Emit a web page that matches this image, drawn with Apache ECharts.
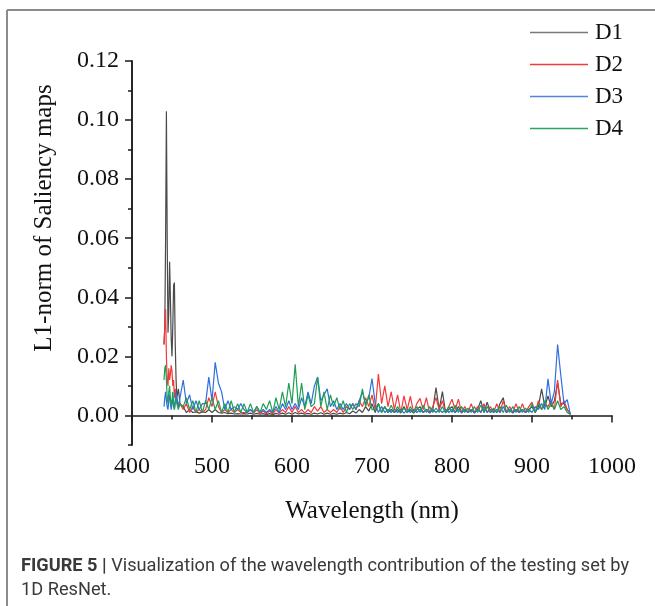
<!DOCTYPE html>
<html>
<head>
<meta charset="utf-8">
<script src="https://cdn.jsdelivr.net/npm/echarts@6/dist/echarts.min.js"></script>
<style>
  html, body { margin: 0; padding: 0; background: #fff; }
  #chart { width: 655px; height: 606px; }
</style>
</head>
<body>
<div id="chart"></div>
<script>
// wavelength grid (nm): dense at the start, then every 4 nm
const wavelengths = [
  440, 441, 442, 443, 444, 445, 446, 447, 448, 449, 450, 451, 452, 453, 454, 455, 456, 458, 460,
  464, 468, 472, 476, 480, 484, 488, 492, 496, 500, 504, 508, 512, 516, 520, 524, 528, 532, 536, 540,
  544, 548, 552, 556, 560, 564, 568, 572, 576, 580, 584, 588, 592, 596, 600, 604, 608, 612, 616, 620,
  624, 628, 632, 636, 640, 644, 648, 652, 656, 660, 664, 668, 672, 676, 680, 684, 688, 692, 696, 700,
  704, 708, 712, 716, 720, 724, 728, 732, 736, 740, 744, 748, 752, 756, 760, 764, 768, 772, 776, 780,
  784, 788, 792, 796, 800, 804, 808, 812, 816, 820, 824, 828, 832, 836, 840, 844, 848, 852, 856, 860,
  864, 868, 872, 876, 880, 884, 888, 892, 896, 900, 904, 908, 912, 916, 920, 924, 928, 932, 936, 940,
  944, 948
];

const d1 = [
  0.024, 0.030, 0.060, 0.103, 0.060, 0.028, 0.035, 0.052, 0.040, 0.026, 0.020, 0.030, 0.044, 0.045, 0.025, 0.013, 0.006, 0.009, 0.004,
  0.003, 0.001, 0.002, 0.001, 0.0012, 0.0008, 0.0012, 0.001, 0.002, 0.001, 0.002, 0.001, 0.0008, 0.001, 0.0006, 0.0008, 0.0005, 0.0006, 0.0005, 0.0006,
  0.0005, 0.0008, 0.0004, 0.0007, 0.0004, 0.0006, 0.0003, 0.0006, 0.0003, 0.0007, 0.0004, 0.0008, 0.0004, 0.0009, 0.0004, 0.001, 0.0005, 0.0008, 0.0004, 0.0007,
  0.0004, 0.0008, 0.0005, 0.0009, 0.0004, 0.0008, 0.0004, 0.0007, 0.0004, 0.0008, 0.0005, 0.001, 0.0006, 0.0015, 0.0008, 0.002, 0.001, 0.003, 0.0015, 0.004,
  0.001, 0.004, 0.001, 0.003, 0.001, 0.002, 0.001, 0.002, 0.0008, 0.003, 0.001, 0.002, 0.0008, 0.002, 0.003, 0.001, 0.002, 0.0008, 0.002, 0.0094,
  0.002, 0.0081, 0.001, 0.002, 0.003, 0.001, 0.003, 0.0008, 0.002, 0.001, 0.002, 0.0008, 0.002, 0.005, 0.001, 0.0045, 0.001, 0.002, 0.001, 0.004,
  0.006, 0.001, 0.002, 0.0008, 0.002, 0.001, 0.002, 0.001, 0.002, 0.003, 0.001, 0.003, 0.009, 0.003, 0.0066, 0.003, 0.005, 0.011, 0.004, 0.004,
  0.002, 0.0005
];

const d2 = [
  0.024, 0.030, 0.036, 0.020, 0.012, 0.010, 0.016, 0.012, 0.014, 0.017, 0.015, 0.010, 0.012, 0.006, 0.009, 0.004, 0.006, 0.003, 0.004,
  0.002, 0.004, 0.001, 0.003, 0.001, 0.002, 0.001, 0.002, 0.006, 0.003, 0.008, 0.003, 0.001, 0.002, 0.001, 0.002, 0.001, 0.002, 0.001, 0.001,
  0.001, 0.002, 0.0008, 0.002, 0.0006, 0.0015, 0.0006, 0.0015, 0.0005, 0.002, 0.0008, 0.002, 0.001, 0.003, 0.001, 0.003, 0.001, 0.002, 0.0008, 0.002,
  0.001, 0.003, 0.0015, 0.003, 0.001, 0.002, 0.001, 0.002, 0.001, 0.003, 0.001, 0.003, 0.002, 0.004, 0.002, 0.005, 0.003, 0.006, 0.003, 0.007,
  0.002, 0.014, 0.004, 0.010, 0.003, 0.008, 0.002, 0.007, 0.001, 0.0066, 0.002, 0.0065, 0.001, 0.004, 0.0058, 0.002, 0.006, 0.001, 0.003, 0.006,
  0.002, 0.005, 0.001, 0.003, 0.0055, 0.002, 0.0055, 0.001, 0.003, 0.001, 0.004, 0.001, 0.003, 0.001, 0.004, 0.001, 0.003, 0.001, 0.004, 0.001,
  0.005, 0.001, 0.003, 0.001, 0.004, 0.001, 0.004, 0.001, 0.003, 0.0045, 0.001, 0.005, 0.002, 0.004, 0.003, 0.005, 0.002, 0.012, 0.003, 0.005,
  0.002, 0.0005
];

const d3 = [
  0.003, 0.006, 0.008, 0.005, 0.003, 0.002, 0.005, 0.007, 0.004, 0.002, 0.004, 0.006, 0.003, 0.002, 0.005, 0.008, 0.006, 0.003, 0.006,
  0.012, 0.004, 0.007, 0.002, 0.005, 0.002, 0.004, 0.004, 0.013, 0.005, 0.018, 0.011, 0.008, 0.002, 0.005, 0.002, 0.003, 0.002, 0.004, 0.002,
  0.001, 0.002, 0.001, 0.003, 0.001, 0.002, 0.001, 0.002, 0.001, 0.003, 0.001, 0.004, 0.002, 0.005, 0.002, 0.004, 0.002, 0.006, 0.003, 0.008,
  0.004, 0.010, 0.013, 0.005, 0.007, 0.009, 0.003, 0.005, 0.002, 0.004, 0.002, 0.004, 0.002, 0.004, 0.002, 0.005, 0.008, 0.004, 0.006, 0.0125,
  0.004, 0.001, 0.003, 0.001, 0.002, 0.001, 0.002, 0.001, 0.002, 0.0008, 0.002, 0.001, 0.002, 0.001, 0.002, 0.001, 0.002, 0.001, 0.002, 0.001,
  0.002, 0.001, 0.002, 0.001, 0.002, 0.001, 0.002, 0.001, 0.002, 0.001, 0.002, 0.001, 0.002, 0.001, 0.003, 0.001, 0.002, 0.001, 0.002, 0.001,
  0.003, 0.001, 0.002, 0.001, 0.002, 0.001, 0.002, 0.001, 0.002, 0.001, 0.003, 0.002, 0.004, 0.002, 0.0124, 0.004, 0.0082, 0.024, 0.0136, 0.004,
  0.0054, 0.0003
];

const d4 = [
  0.012, 0.016, 0.017, 0.012, 0.006, 0.004, 0.008, 0.010, 0.006, 0.003, 0.005, 0.008, 0.005, 0.002, 0.004, 0.006, 0.004, 0.002, 0.004,
  0.003, 0.006, 0.002, 0.005, 0.001, 0.005, 0.001, 0.005, 0.002, 0.006, 0.002, 0.005, 0.001, 0.004, 0.001, 0.005, 0.001, 0.004, 0.001, 0.004,
  0.001, 0.004, 0.001, 0.003, 0.001, 0.004, 0.002, 0.005, 0.001, 0.006, 0.002, 0.008, 0.003, 0.011, 0.004, 0.0173, 0.003, 0.011, 0.002, 0.007,
  0.003, 0.004, 0.013, 0.003, 0.008, 0.002, 0.007, 0.003, 0.006, 0.002, 0.005, 0.001, 0.004, 0.002, 0.004, 0.003, 0.009, 0.003, 0.007, 0.002,
  0.002, 0.004, 0.001, 0.003, 0.001, 0.0035, 0.001, 0.003, 0.001, 0.0025, 0.001, 0.003, 0.0008, 0.003, 0.001, 0.0035, 0.001, 0.003, 0.001, 0.0025,
  0.001, 0.003, 0.0008, 0.003, 0.001, 0.0035, 0.001, 0.003, 0.001, 0.0025, 0.001, 0.003, 0.001, 0.0035, 0.001, 0.003, 0.001, 0.0025, 0.001, 0.003,
  0.001, 0.0035, 0.001, 0.003, 0.001, 0.003, 0.001, 0.0025, 0.001, 0.004, 0.001, 0.004, 0.002, 0.005, 0.002, 0.004, 0.002, 0.005, 0.002, 0.003,
  0.001, 0.0003
];

const seriesNames = ["D1", "D2", "D3", "D4"];
const seriesColors = ["#4a4a4a", "#f23a3a", "#2e6ee0", "#1f9e55"];
const legendColors = ["#7a7a7a", "#f23a3a", "#4f86e3", "#2aa564"];
const yLabelValues = [0, 0.02, 0.04, 0.06, 0.08, 0.10, 0.12];

const serif = "'Liberation Serif', 'Times New Roman', serif";
const sans = "Roboto, 'Liberation Sans', sans-serif";
const chart = echarts.init(document.getElementById("chart"), null, { renderer: "canvas" });

const axisLine = { show: true, lineStyle: { color: "#1a1a1a", width: 1.5 } };

chart.setOption({
  animation: false,
  backgroundColor: "#fff",
  grid: { left: 132, right: 43, top: 61, bottom: 161 },
  legend: {
    orient: "vertical",
    left: 530,
    top: 21,
    padding: 0,
    itemWidth: 58,
    itemHeight: 1.5,
    itemGap: 9,
    icon: "rect",
    textStyle: { fontFamily: serif, fontSize: 23, color: "#111", lineHeight: 22, padding: [0, 0, 0, 2] },
    data: seriesNames.map((name, i) => ({ name, itemStyle: { color: legendColors[i] } }))
  },
  xAxis: {
    type: "value",
    min: 400,
    max: 1000,
    interval: 100,
    name: "Wavelength (nm)",
    nameLocation: "middle",
    nameGap: 54,
    nameTextStyle: { fontFamily: serif, fontSize: 25, color: "#111" },
    axisLine,
    axisTick: { show: true, length: 7, lineStyle: { color: "#1a1a1a", width: 1.5 } },
    minorTick: { show: true, splitNumber: 2, length: 4, lineStyle: { color: "#1a1a1a", width: 1.5 } },
    axisLabel: { fontFamily: serif, fontSize: 24, color: "#111", margin: 10, formatter: v => String(v) },
    splitLine: { show: false }
  },
  yAxis: [
    {
      type: "value",
      min: -0.01,
      max: 0.12,
      interval: 0.01,
      axisLine,
      axisTick: { show: true, length: 4, lineStyle: { color: "#1a1a1a", width: 1.5 } },
      axisLabel: { show: false },
      splitLine: { show: false }
    },
    {
      type: "value",
      position: "left",
      min: -0.01,
      max: 0.12,
      interval: 0.01,
      axisLine,
      axisTick: { show: true, length: 7, customValues: yLabelValues, lineStyle: { color: "#1a1a1a", width: 1.5 } },
      axisLabel: {
        customValues: yLabelValues,
        fontFamily: serif, fontSize: 24, color: "#111", margin: 13,
        formatter: v => v.toFixed(2)
      },
      splitLine: { show: false }
    }
  ],
  series: seriesNames.map((name, i) => ({
    name,
    type: "line",
    yAxisIndex: 0,
    showSymbol: false,
    symbol: "none",
    lineStyle: { width: 1.2, color: seriesColors[i] },
    itemStyle: { color: seriesColors[i] },
    data: wavelengths.map((w, j) => [w, [d1, d2, d3, d4][i][j]])
  })),
  graphic: [
    { type: "line", shape: { x1: 7, y1: 10, x2: 655, y2: 10 }, style: { stroke: "#8c8c8c", lineWidth: 2 } },
    { type: "line", shape: { x1: 7, y1: 10, x2: 7, y2: 606 }, style: { stroke: "#8c8c8c", lineWidth: 2 } },
    {
      type: "text", x: 44, y: 218, rotation: Math.PI / 2,
      style: { text: "L1-norm of Saliency maps", fontFamily: serif, fontSize: 25, fill: "#111", align: "center", verticalAlign: "middle" }
    },
    {
      type: "text", x: 21, y: 566,
      style: {
        text: "{b|FIGURE 5 |} Visualization of the wavelength contribution of the testing set by",
        fontFamily: sans, fontSize: 18.2, fill: "#3a3a3a", verticalAlign: "middle",
        rich: { b: { fontWeight: "bold", fontFamily: sans, fontSize: 18.2, fill: "#3a3a3a" } }
      }
    },
    {
      type: "text", x: 21, y: 590,
      style: { text: "1D ResNet.", fontFamily: sans, fontSize: 18.2, fill: "#3a3a3a", verticalAlign: "middle" }
    }
  ]
});
</script>
</body>
</html>
